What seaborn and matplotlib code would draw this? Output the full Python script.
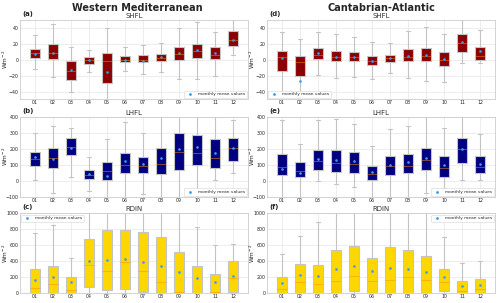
import numpy as np
import pandas as pd
import matplotlib.pyplot as plt
from matplotlib.lines import Line2D
import seaborn as sns

months = ['01', '02', '03', '04', '05', '06', '07', '08', '09', '10', '11', '12']

# Western Mediterranean - SHFL
wm_shfl_lo = [-11, -21, -40, -15, -60, -14, -17, -15, -24, -24, -20, 6]
wm_shfl_q1 = [2.5, 1.3, -24.6, -4.6, -28.8, -2, -2.5, -1, 0.4, 2, 1.7, 17.5]
wm_shfl_med = [8.5, 8.5, -14, -0.4, -1, 0, -0.5, 3, 7.5, 10.8, 6.7, 24.6]
wm_shfl_q3 = [13.8, 20, -1.7, 3.3, 9, 4.6, 5.8, 8, 16, 19.6, 16, 36.7]
wm_shfl_hi = [31, 45, 16, 13, 40, 16, 19, 21, 40, 47, 35, 60]
wm_shfl_mean = [8, 8.5, -12.5, 0, -15.4, 0, -1, 3.3, 8.7, 13, 8.7, 25]

# Cantabrian-Atlantic - SHFL
ca_shfl_lo = [-60, -60, -19, -22, -21, -24, -16.4, -22.7, -26.5, -27.8, -4.2, -4.2]
ca_shfl_q1 = [-13.5, -19.8, 1.3, -1.7, -1.7, -6.7, -2, -1.7, -1.3, -7.2, 9.7, 0.4]
ca_shfl_med = [3.4, -2, 6.7, 4.2, 4.2, -0.8, 2, 3.8, 5.5, 0, 21.5, 5.5]
ca_shfl_q3 = [11.8, 4.6, 14.7, 11.8, 9.7, 4.6, 6.7, 13.9, 15.6, 9.7, 32, 16.8]
ca_shfl_hi = [35, 26.5, 35, 33, 28.6, 22, 21.5, 36, 41, 33, 60, 38]
ca_shfl_mean = [3, -26.5, 8.8, 3.8, 4.2, -1.7, 2, 5.5, 6.3, 1.3, 22.3, 11]

# Western Mediterranean - LHFL
wm_lhfl_lo = [6, -75, 27, -65, -150, -150, -81, -150, -150, -150, 6, 52]
wm_lhfl_q1 = [94, 83, 160, 12.5, 4, 48, 48, 42, 69, 100, 83, 125]
wm_lhfl_med = [137, 142, 210, 37, 62.5, 100, 90, 104, 183, 171, 142, 204]
wm_lhfl_q3 = [179, 204, 267, 67, 117, 173, 148, 204, 298, 288, 260, 267]
wm_lhfl_hi = [298, 342, 329, 150, 262, 367, 298, 450, 450, 450, 450, 381]
wm_lhfl_mean = [146, 135, 206, 44, 31, 121, 104, 142, 198, 210, 175, 204]

# Cantabrian-Atlantic - LHFL
ca_lhfl_lo = [-150, -150, 2, -17, -37, -150, -150, -150, -75, -42, 4, 6]
ca_lhfl_q1 = [35, 25, 65, 58, 52, 6, 35, 48, 67, 27, 112, 48]
ca_lhfl_med = [87.5, 62.5, 123, 112, 106, 46, 90, 94, 133, 81, 200, 85]
ca_lhfl_q3 = [169, 117, 190, 194, 177, 94, 152, 165, 206, 152, 269, 156]
ca_lhfl_hi = [377, 231, 377, 388, 352, 219, 323, 342, 450, 331, 450, 294]
ca_lhfl_mean = [77, 50, 137, 129, 121, 56, 100, 115, 144, 100, 196, 106]

# Western Mediterranean - RDIN
wm_rdin_lo = [0, 0, 0, 0, 0, 0, 0, 0, 0, 0, 0, 0]
wm_rdin_q1 = [0, 2, 0, 83, 37, 54, 12, 8, 8, 0, 0, 12]
wm_rdin_med = [71, 112, 42, 354, 279, 387, 275, 137, 21, 8, 21, 196]
wm_rdin_q3 = [300, 342, 200, 675, 792, 788, 762, 700, 521, 337, 242, 404]
wm_rdin_hi = [750, 850, 437, 1100, 1100, 1100, 1100, 1100, 1100, 830, 604, 612]
wm_rdin_mean = [162, 204, 142, 404, 417, 425, 387, 342, 262, 187, 142, 221]

# Cantabrian-Atlantic - RDIN
ca_rdin_lo = [0, 0, 0, 0, 0, 0, 0, 0, 0, 0, 0, 0]
ca_rdin_q1 = [0, 0, 0, 0, 29, 0, 0, 0, 0, 25, 0, 0]
ca_rdin_med = [54, 136, 115, 157, 219, 157, 169, 210, 165, 136, 25, 54]
ca_rdin_q3 = [202, 363, 355, 540, 594, 445, 581, 544, 470, 301, 153, 177]
ca_rdin_hi = [487, 717, 887, 1100, 1100, 1100, 1100, 1100, 1100, 705, 384, 404]
ca_rdin_mean = [128, 223, 219, 301, 338, 276, 322, 309, 268, 198, 95, 103]

MEAN_COLOR = '#3d9be9'


def draw_panel(ax, lo, q1, med, q3, hi, mean, color, var, tag, ylim, yticks, loc):
    vals = np.column_stack([lo, q1, med, q3, hi]).ravel()
    df = pd.DataFrame({'month': np.repeat(months, 5), 'value': vals})
    sns.boxplot(data=df, x='month', y='value', ax=ax, whis=np.inf, width=0.52,
                color=color, saturation=1, linecolor='#c4c4c4', linewidth=0.8,
                medianprops=dict(color='#ff8c00', alpha=0.5, linewidth=0.7),
                showfliers=False)
    ax.scatter(np.arange(len(months)), mean, s=0.8, color=MEAN_COLOR, zorder=5)

    ax.set_ylim(ylim)
    ax.set_yticks(yticks)
    ax.set_xlabel('')
    ax.set_ylabel('Wm$^{-2}$', fontsize=4.2)
    ax.yaxis.set_label_coords(-0.046, 0.5)
    ax.tick_params(labelsize=3.4, pad=0.8, length=0)
    ax.set_title(var, fontsize=5, pad=1.5, color='#333333')
    ax.text(0.01, 1.05, tag, transform=ax.transAxes, fontsize=5, fontweight='bold')
    for s in ax.spines.values():
        s.set_color('#cccccc')
        s.set_linewidth(0.6)
    ax.grid(True, color='#e6e6e6', linewidth=0.5)

    h = Line2D([], [], marker='.', ls='', color=MEAN_COLOR, markersize=2)
    leg = ax.legend(handles=[h], labels=['monthly mean values'], loc=loc, fontsize=3.2,
                    frameon=True, framealpha=1, handletextpad=0.8, borderpad=0.35,
                    borderaxespad=0.3)
    leg.get_frame().set_edgecolor('#dddddd')
    leg.get_frame().set_linewidth(0.5)


sns.set_theme(style='whitegrid')
fig = plt.figure(figsize=(5.0, 3.03), dpi=100)

cols = [0.040, 0.534]
w = 0.456
rows = [(0.672, 0.262), (0.350, 0.265), (0.032, 0.264)]

panels = [
    [
        (wm_shfl_lo, wm_shfl_q1, wm_shfl_med, wm_shfl_q3, wm_shfl_hi, wm_shfl_mean,
         '#8b0000', 'SHFL', '(a)', (-49, 50), [-40, -20, 0, 20, 40], 'lower right'),
        (wm_lhfl_lo, wm_lhfl_q1, wm_lhfl_med, wm_lhfl_q3, wm_lhfl_hi, wm_lhfl_mean,
         '#000080', 'LHFL', '(b)', (-100, 400), [-100, 0, 100, 200, 300, 400], 'lower right'),
        (wm_rdin_lo, wm_rdin_q1, wm_rdin_med, wm_rdin_q3, wm_rdin_hi, wm_rdin_mean,
         '#ffd700', 'RDIN', '(c)', (0, 1000), [0, 200, 400, 600, 800, 1000], 'upper left'),
    ],
    [
        (ca_shfl_lo, ca_shfl_q1, ca_shfl_med, ca_shfl_q3, ca_shfl_hi, ca_shfl_mean,
         '#8b0000', 'SHFL', '(d)', (-49, 50), [-40, -20, 0, 20, 40], 'lower left'),
        (ca_lhfl_lo, ca_lhfl_q1, ca_lhfl_med, ca_lhfl_q3, ca_lhfl_hi, ca_lhfl_mean,
         '#000080', 'LHFL', '(e)', (-100, 400), [-100, 0, 100, 200, 300, 400], 'lower right'),
        (ca_rdin_lo, ca_rdin_q1, ca_rdin_med, ca_rdin_q3, ca_rdin_hi, ca_rdin_mean,
         '#ffd700', 'RDIN', '(f)', (0, 1000), [0, 200, 400, 600, 800, 1000], 'upper right'),
    ],
]

for ci, x0 in enumerate(cols):
    for ri, (y0, h) in enumerate(rows):
        ax = fig.add_axes([x0, y0, w, h])
        draw_panel(ax, *panels[ci][ri])

fig.text(0.275, 0.975, 'Western Mediterranean', ha='center', va='center',
         fontsize=7, fontweight='bold')
fig.text(0.762, 0.975, 'Cantabrian-Atlantic', ha='center', va='center',
         fontsize=7, fontweight='bold')

fig.savefig('out.png', dpi=100)
